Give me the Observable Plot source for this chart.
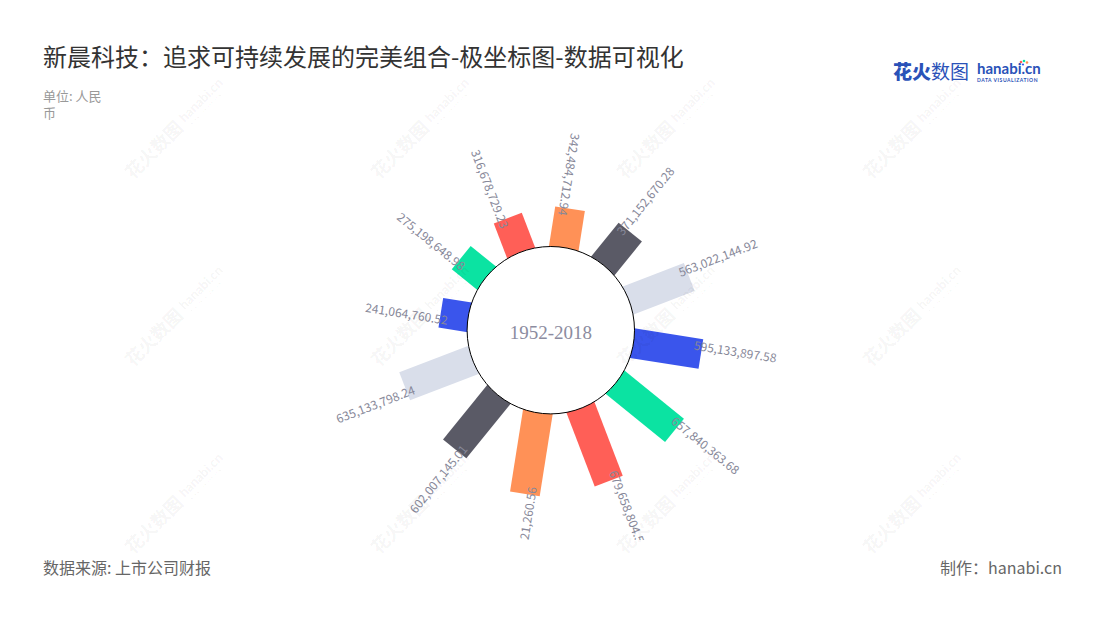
<!DOCTYPE html>
<html>
<head>
<meta charset="utf-8">
<script src="https://cdn.jsdelivr.net/npm/d3@7"></script>
<script src="https://cdn.jsdelivr.net/npm/@observablehq/plot@0.6"></script>
<style>
  html, body { margin: 0; padding: 0; background: #fff; }
  #page { position: relative; width: 1100px; height: 620px; overflow: hidden; font-family: "Noto Sans CJK SC", "Noto Sans", sans-serif; }
  #title { position: absolute; left: 43px; top: 42px; font-size: 24px; line-height: 27px; color: #333; white-space: nowrap; }
  #unit { position: absolute; left: 43px; top: 87px; font-size: 13px; line-height: 17px; color: #999; }
  #source { position: absolute; left: 43px; top: 556px; font-size: 16px; line-height: 22px; color: #666; }
  #maker { position: absolute; right: 38px; top: 556px; font-size: 16px; line-height: 22px; color: #666; }
  #chart { position: absolute; left: 0; top: 120px; }
  #logo { position: absolute; left: 893px; top: 58px; width: 170px; height: 30px; }
  #wm { position: absolute; left: 0; top: 0; pointer-events: none; }
</style>
</head>
<body>
<div id="page">
  <div id="title">新晨科技：追求可持续发展的完美组合-极坐标图-数据可视化</div>
  <div id="unit">单位: 人民<br>币</div>
  <div id="logo">
    <svg width="170" height="30">
      <text x="0" y="21" font-size="19" font-weight="900" fill="#2a52b8" font-family="Noto Sans CJK SC">花火</text>
      <text x="38" y="21" font-size="19" font-weight="400" fill="#2a52b8" font-family="Noto Sans CJK SC">数图</text>
      <text x="84" y="16" font-size="15" font-weight="bold" fill="#2a52b8" font-family="Lato, sans-serif">hanabi.cn</text>
      <circle cx="128" cy="4" r="1.3" fill="#ff5f57"/>
      <circle cx="131" cy="3" r="1.3" fill="#0be3a2"/>
      <circle cx="134" cy="4.5" r="1.3" fill="#ff9157"/>
      <circle cx="130" cy="6.5" r="1.1" fill="#3a55ec"/>
      <text x="84" y="24" font-size="5" letter-spacing="0.55" fill="#2a52b8" font-family="Lato, sans-serif" font-weight="bold">DATA VISUALIZATION</text>
    </svg>
  </div>
  <div id="chart"></div>
  <div id="source">数据来源: 上市公司财报</div>
  <div id="maker">制作：hanabi.cn</div>
  <svg id="wm" width="1100" height="620"></svg>
</div>
<script>
// ---- data ----
const values = [241064760.52, 275198648.98, 316678729.23, 342484712.94, 371152670.28, 563022144.92,
                595133897.58, 657840363.68, 679658804.54, 715021260.56, 602007145.01, 635133798.24];
const palette = ["#3a55ec", "#0be3a2", "#ff5f57", "#ff9157", "#5a5a66", "#d9deea"];
const centerLabel = "1952-2018";

// ---- polar helpers ----
const fmt = d3.format(",.2f");
const innerR = 83.7;
const rScale = d3.scaleLinear().domain([0, 700e6]).range([innerR, innerR + 0.1147 * 700]);
const rows = values.map((v, i) => {
  const a = (279 + 30 * i) % 360;
  const rad = a * Math.PI / 180;
  return { i, v, a, s: Math.sin(rad), c: Math.cos(rad), key: i % 6, label: fmt(v) };
});
const barStart = 60;
const lblIn = 8, lblSide = 7;
const lx = d => (rScale(d.v) - lblIn) * d.s - lblSide * d.c;
const ly = d => (rScale(d.v) - lblIn) * d.c + lblSide * d.s;
const outward = rows.filter(d => d.a > 20 && d.a < 180);
const inward = rows.filter(d => !(d.a > 20 && d.a < 180));

const chart = Plot.plot({
  width: 1100,
  height: 420,
  margin: 0,
  x: { domain: [-550.3, 549.7], axis: null },
  y: { domain: [-210.3, 209.7], axis: null },
  color: { type: "ordinal", domain: d3.range(6), range: palette },
  style: { overflow: "hidden", background: "transparent" },
  marks: [
    Plot.link(rows, {
      x1: d => barStart * d.s, y1: d => barStart * d.c,
      x2: d => rScale(d.v) * d.s, y2: d => rScale(d.v) * d.c,
      stroke: "key", strokeWidth: 30, strokeLinecap: "butt"
    }),
    Plot.dot([0], { x: 0, y: 0, r: innerR, fill: "white", stroke: "black", strokeWidth: 1 }),
    Plot.text([centerLabel], { x: 0, y: 0, text: d => d, dy: 3, fontSize: 19, fontFamily: "Liberation Serif, serif", fill: "#8c8ca0" }),
    Plot.text(outward, { x: lx, y: ly, text: "label", rotate: d => d.a - 90, textAnchor: "start",
      fontSize: 12, fontFamily: "Noto Sans CJK SC, Noto Sans, sans-serif", fill: "#878899" }),
    Plot.text(inward, { x: lx, y: ly, text: "label", rotate: d => d.a + 90, textAnchor: "end",
      fontSize: 12, fontFamily: "Noto Sans CJK SC, Noto Sans, sans-serif", fill: "#878899" })
  ]
});
document.getElementById("chart").appendChild(chart);

// ---- watermark ----
const wm = document.getElementById("wm");
const NS = "http://www.w3.org/2000/svg";
for (let r = 0; r <= 2; r++) {
  for (let c = 0; c <= 3; c++) {
    const x = 133 + 246 * c, y = 180 + 187.5 * r;
    const g = document.createElementNS(NS, "g");
    g.setAttribute("transform", `translate(${x},${y}) rotate(-45)`);
    g.setAttribute("fill", "rgba(0,0,0,0.055)");
    g.innerHTML = `<text x="0" y="0" font-size="18" font-weight="bold" font-family="Noto Sans CJK SC">花火数图</text>
      <text x="77" y="-4" font-size="13" font-weight="bold" font-family="Lato, sans-serif">hanabi.cn</text>
      <text x="77" y="3" font-size="3.6" letter-spacing="0.5" font-family="Lato, sans-serif" font-weight="bold">DATA VISUALIZATION</text>`;
    wm.appendChild(g);
  }
}
</script>
</body>
</html>
